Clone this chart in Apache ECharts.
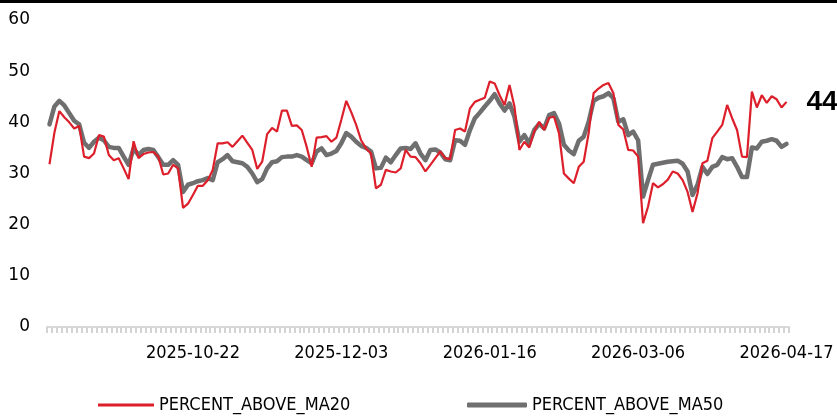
<!DOCTYPE html>
<html>
<head>
<meta charset="utf-8">
<script src="https://cdn.jsdelivr.net/npm/echarts@6/dist/echarts.min.js"></script>
<style>
html,body{margin:0;padding:0;background:#fff;}
#chart{width:837px;height:416px;}
</style>
</head>
<body>
<div id="chart"></div>
<script>
// ---- data ----
const seriesNames = ['PERCENT_ABOVE_MA20', 'PERCENT_ABOVE_MA50'];
const tickLabels = ['2025-10-22', '2025-12-03', '2026-01-16', '2026-03-06', '2026-04-17'];
const tickIndices = [29, 59, 89, 119, 149];
const yTicks = [0, 10, 20, 30, 40, 50, 60];

const ma20 = [
31.8, 38.0, 42.2, 41.0, 40.0, 38.8, 39.3, 33.3, 33.0, 33.9,
37.5, 37.2, 33.6, 32.6, 33.0, 31.0, 28.9, 36.3, 33.0, 33.8,
34.1, 34.2, 33.3, 29.8, 30.0, 31.7, 31.0, 23.3, 24.1, 25.8,
27.6, 27.6, 28.7, 30.7, 35.9, 35.9, 36.1, 35.2, 36.3, 37.4,
36.0, 34.6, 30.9, 32.3, 37.7, 38.9, 38.2, 42.3, 42.3, 39.3,
39.4, 38.5, 35.2, 31.3, 37.0, 37.1, 37.3, 36.2, 37.0, 40.5,
44.2, 42.0, 39.5, 36.5, 34.9, 33.9, 27.1, 27.8, 30.7, 30.4,
30.2, 31.0, 34.6, 33.3, 33.2, 32.0, 30.4, 31.7, 33.0, 34.3,
33.0, 32.8, 38.5, 38.8, 38.2, 42.7, 44.0, 44.4, 44.8, 48.0,
47.6, 45.3, 43.4, 47.3, 43.1, 34.6, 36.2, 35.1, 38.2, 40.1,
38.5, 40.9, 41.1, 37.9, 30.0, 29.0, 28.1, 31.3, 32.3, 37.9,
45.7, 46.6, 47.3, 47.7, 45.7, 39.5, 38.6, 34.6, 34.5, 33.3,
20.3, 23.5, 28.1, 27.3, 27.9, 28.8, 30.4, 30.0, 28.7, 26.4,
22.5, 26.1, 32.0, 32.5, 36.9, 38.2, 39.5, 43.4, 40.8, 38.5,
33.3, 33.2, 46.0, 42.9, 45.3, 43.8, 45.1, 44.5, 42.9, 44.0
];

const ma50 = [
39.6, 43.1, 44.2, 43.3, 41.8, 40.3, 39.6, 36.0, 35.0, 36.2,
37.0, 36.5, 35.2, 35.0, 35.0, 33.3, 31.7, 34.9, 33.6, 34.6,
34.8, 34.6, 33.2, 31.7, 31.7, 32.6, 31.7, 26.4, 27.8, 28.1,
28.5, 28.7, 29.1, 28.7, 32.2, 32.8, 33.6, 32.4, 32.2, 32.0,
31.3, 30.0, 28.3, 28.9, 31.0, 32.2, 32.4, 33.2, 33.3, 33.3,
33.6, 33.3, 32.6, 32.0, 34.3, 34.9, 33.6, 33.9, 34.4, 35.9,
37.9, 37.2, 36.2, 35.4, 35.0, 34.3, 31.0, 31.1, 33.1, 32.2,
33.6, 34.9, 35.0, 34.8, 35.9, 33.9, 32.6, 34.6, 34.7, 34.1,
32.8, 32.6, 36.5, 36.4, 35.6, 38.5, 40.8, 41.9, 43.1, 44.2,
45.5, 43.7, 42.3, 43.7, 41.1, 36.2, 37.5, 35.9, 38.5, 39.7,
38.8, 41.4, 41.8, 39.8, 35.6, 34.5, 33.8, 36.4, 37.2, 40.1,
44.2, 44.8, 45.1, 45.7, 44.7, 40.1, 40.6, 37.5, 38.2, 36.5,
25.5, 28.7, 31.7, 31.9, 32.1, 32.3, 32.4, 32.5, 31.9, 30.4,
25.8, 27.8, 31.3, 29.9, 31.3, 31.7, 33.2, 32.8, 33.0, 31.3,
29.3, 29.3, 35.1, 34.9, 36.2, 36.4, 36.7, 36.4, 35.2, 35.8
];

// category labels: only the tick dates are known; other positions are blank
const categories = ma20.map((_, i) => {
  const k = tickIndices.indexOf(i);
  return k >= 0 ? tickLabels[k] : String(i);
});

const RED = '#dc1f2b';
const GRAY = '#6f6f6f';
const FONT = 'DejaVu Sans';
const FONT_C = 'DejaVu Sans Condensed';

const chart = echarts.init(document.getElementById('chart'), null, {renderer: 'canvas'});
chart.setOption({
  animation: false,
  backgroundColor: '#ffffff',
  graphic: [{
    type: 'rect', left: 0, top: 0, shape: {width: 837, height: 3},
    style: {fill: '#000'}
  }],
  grid: {left: 47, right: 48, top: 20, bottom: 89, containLabel: false},
  legend: [{
    data: [{name: seriesNames[0], icon: 'rect'}], left: 93, top: 391,
    itemWidth: 56, itemHeight: 3, padding: 5,
    itemStyle: {color: RED, borderWidth: 0},
    textStyle: {fontFamily: FONT_C, fontSize: 18, color: '#000'}
  }, {
    data: [{name: seriesNames[1], icon: 'roundRect'}], left: 462, top: 391,
    itemWidth: 60, itemHeight: 5, padding: 5,
    itemStyle: {color: GRAY, borderWidth: 0},
    textStyle: {fontFamily: FONT_C, fontSize: 18, color: '#000'}
  }],
  xAxis: {
    type: 'category',
    data: categories,
    boundaryGap: true,
    axisLine: {show: true, lineStyle: {color: '#d9d9d9', width: 2}},
    axisTick: {show: true, interval: 0, length: 6, lineStyle: {color: '#d4d4d4', width: 2}},
    axisLabel: {
      interval: (idx) => tickIndices.indexOf(idx) >= 0,
      formatter: (v) => tickLabels.indexOf(v) >= 0 ? v : '',
      margin: 17,
      fontFamily: FONT_C, fontSize: 18, color: '#000'
    },
    splitLine: {show: false}
  },
  yAxis: {
    type: 'value',
    min: yTicks[0], max: yTicks[yTicks.length - 1], interval: 10,
    axisLine: {show: false},
    axisTick: {show: false},
    splitLine: {show: false},
    axisLabel: {margin: 17, fontFamily: FONT, fontSize: 17, color: '#000'}
  },
  series: [{
    name: seriesNames[0], type: 'line', data: ma20,
    symbol: 'none', smooth: false,
    lineStyle: {color: RED, width: 2.2},
    itemStyle: {color: RED},
    z: 3,
    endLabel: {
      show: true, distance: 20,
      formatter: (p) => String(Math.round(p.value)),
      fontFamily: 'Liberation Sans', fontWeight: 'bold', fontSize: 28, color: '#000'
    }
  }, {
    name: seriesNames[1], type: 'line', data: ma50,
    symbol: 'none', smooth: false,
    lineStyle: {color: GRAY, width: 4.5, cap: 'round', join: 'round'},
    itemStyle: {color: GRAY},
    z: 2
  }]
});
</script>
</body>
</html>
